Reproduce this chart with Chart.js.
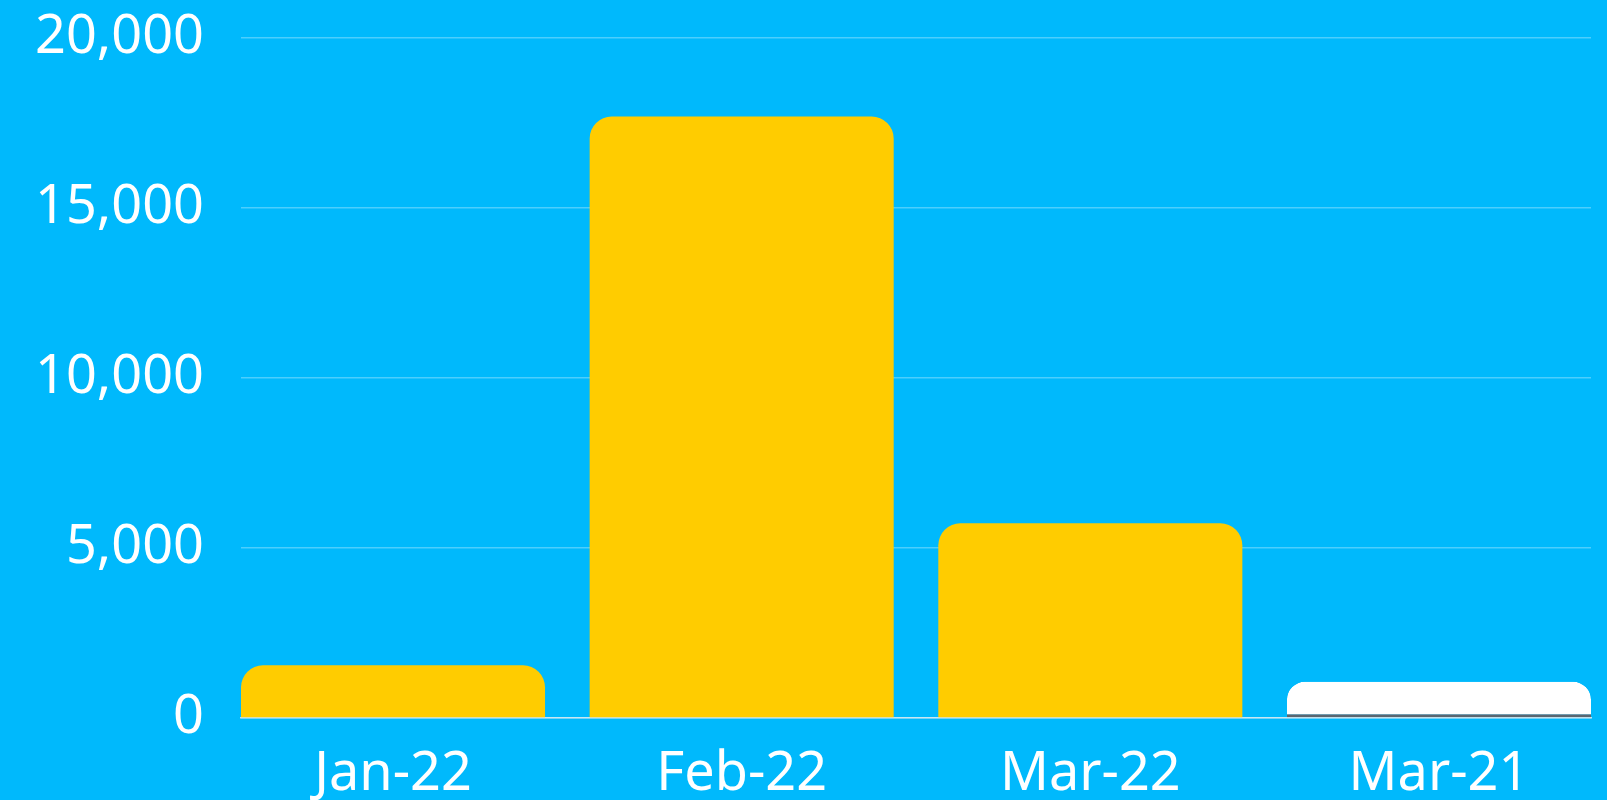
<!DOCTYPE html>
<html>
<head>
<meta charset="utf-8">
<script src="https://cdn.jsdelivr.net/npm/chart.js@4"></script>
<style>
  html, body { margin: 0; padding: 0; background: #00B9FC; overflow: hidden; }
  #wrap { width: 1607px; height: 800px; position: relative; }
</style>
</head>
<body>
<div id="wrap"><canvas id="c"></canvas></div>
<script>
const categories = ["Jan-22", "Feb-22", "Mar-22", "Mar-21"];
const values = [1550, 17690, 5725, 1065];
const yTicks = [0, 5000, 10000, 15000, 20000];

const barFill = ["#FFCC00", "#FFCC00", "#FFCC00", "#FFFFFF"];
const barBorder = ["#FFCC00", "#FFCC00", "#FFCC00", "#5A6670"];

const FONT = "'Noto Sans', 'Open Sans', sans-serif";

new Chart(document.getElementById('c'), {
  type: 'bar',
  data: {
    datasets: [{
      data: values.map((v, i) => ({ x: i, y: v })),
      backgroundColor: barFill,
      borderColor: barBorder,
      borderSkipped: false,
      borderWidth: [0, 0, 0, { top: 0, left: 0, right: 0, bottom: 3 }],
      borderRadius: { topLeft: 22, topRight: 22, bottomLeft: 0, bottomRight: 0 },
      barPercentage: 1,
      categoryPercentage: 0.872
    }]
  },
  options: {
    responsive: true,
    maintainAspectRatio: false,
    animation: false,
    layout: { padding: { top: 38, right: 16, left: 0, bottom: 0 } },
    plugins: { legend: { display: false }, tooltip: { enabled: false } },
    scales: {
      x: {
        type: 'linear',
        min: -0.436,
        max: 3.436,
        offset: false,
        afterFit: (s) => { s.height = 82; s.paddingLeft = 0; s.paddingRight = 0; s.paddingTop = 0; s.paddingBottom = 0; },
        afterBuildTicks: (s) => { s.ticks = categories.map((_, i) => ({ value: i })); },
        afterDataLimits: (s) => { s.min = -0.436; s.max = 3.436; },
        ticks: {
          stepSize: 1,
          includeBounds: false,
          autoSkip: false,
          maxRotation: 0,
          color: '#FFFFFF',
          padding: 24,
          font: { family: FONT, size: 54 },
          callback: (v) => categories[v] ?? ''
        },
        grid: { display: false, drawTicks: false, offset: false },
        border: { display: true, color: 'rgba(225,235,240,0.85)', width: 1.5 }
      },
      y: {
        min: 0,
        max: 20000,
        afterFit: (s) => { s.width = 241; s.paddingTop = 0; s.paddingBottom = 0; s.paddingLeft = 0; s.paddingRight = 0; },
        afterBuildTicks: (s) => { s.ticks = yTicks.map(v => ({ value: v })); },
        ticks: {
          color: '#FFFFFF',
          padding: 37,
          font: { family: FONT, size: 54 },
          callback: (v) => v.toLocaleString('en-US')
        },
        grid: { color: 'rgba(255,255,255,0.3)', lineWidth: 1.5, drawTicks: false },
        border: { display: false }
      }
    }
  }
});
</script>
</body>
</html>
